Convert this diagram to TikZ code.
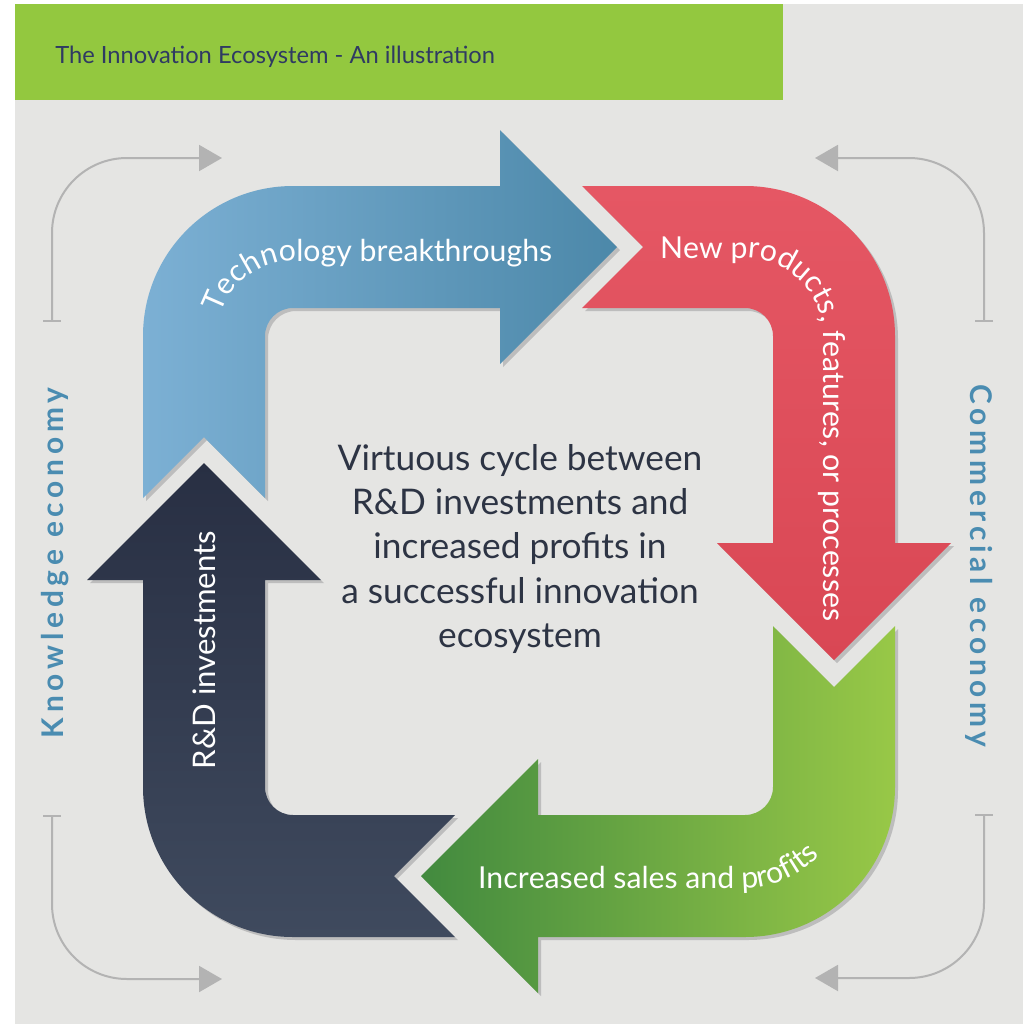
\documentclass[tikz,border=0pt]{standalone}
\usepackage{fontspec}
\setmainfont{Lato}
\newfontfamily\sidefont[LetterSpace=16]{Lato}
\usetikzlibrary{arrows.meta,shadows,decorations.text}
\definecolor{pagegray}{HTML}{E5E5E3}
\definecolor{headgreen}{HTML}{93C83F}
\definecolor{titleblue}{HTML}{2F3A62}
\definecolor{textdark}{HTML}{2D3444}
\definecolor{sideblue}{HTML}{4A8CB1}
\definecolor{linegray}{HTML}{B3B3B3}
\definecolor{shadowgray}{HTML}{BDBDBD}
\definecolor{techL}{HTML}{7CB0D4}
\definecolor{techR}{HTML}{4C88A9}
\definecolor{prodT}{HTML}{E55764}
\definecolor{prodB}{HTML}{D94754}
\definecolor{salesL}{HTML}{428A3F}
\definecolor{salesR}{HTML}{98C847}
\definecolor{rdT}{HTML}{282F43}
\definecolor{rdB}{HTML}{3F4A5E}
\newcommand\lblfont{\fontsize{17.2}{20}\selectfont}
\begin{document}
\begin{tikzpicture}[x=.02cm,y=-.02cm,every node/.style={inner sep=0pt},
	arrowshadow/.style={drop shadow={shadow xshift=.06cm,shadow yshift=-.06cm,fill=shadowgray,opacity=1}},
	bracket/.style={draw=linegray,line width=.04cm,rounded corners=1.5cm,{Bar[width=.36cm]}-{Triangle[length=.46cm,width=.52cm]}},
	alongtext/.style={decorate,decoration={text along path,text color=white,text={|\lblfont|#1}}},
	side/.style={font=\sidefont\bfseries\fontsize{17}{20}\selectfont,text=sideblue,anchor=base}]
	\useasboundingbox(0,0)rectangle(1024,1025);
	\fill[white](0,0)rectangle(1024,1025);
	\fill[pagegray](15,4)rectangle(1023,1024);
	\fill[headgreen](15,4)rectangle(783,100);
	\node[anchor=base west,text=titleblue,font=\fontsize{13.5}{16}\selectfont](title)at(55,63){The Innovation Ecosystem - An illustration};
	%side brackets
	\draw[bracket](52,322)|-(222,158);
	\draw[bracket](52,815)|-(222,979);
	\draw[bracket](984,322)|-(815,158);
	\draw[bracket](984,814)|-(815,978);
	\node[side,rotate=90](know)at(63,563){Knowledge economy};
	\node[side,rotate=-90](comm)at(970,566){Commercial economy};
	%the four arrows
	\shade[arrowshadow,left color=techL,right color=techR](143,498)--(204,437)--(265,498)--(265,336)arc[start angle=180,end angle=270,radius=28]--(500,308)--(500,364)--(617,247)--(500,130)--(500,186)--(293,186)arc[start angle=270,end angle=180,radius=150]--cycle;
	\shade[arrowshadow,top color=prodT,bottom color=prodB](582,186)--(643,247)--(582,308)--(745,308)arc[start angle=270,end angle=360,radius=28]--(773,543)--(717,543)--(834,660)--(951,543)--(895,543)--(895,336)arc[start angle=0,end angle=-90,radius=150]--cycle;
	\shade[arrowshadow,left color=salesL,right color=salesR](773,626)--(834,687)--(895,626)--(895,787)arc[start angle=0,end angle=90,radius=150]--(538,937)--(538,993)--(421,876)--(538,759)--(538,815)--(745,815)arc[start angle=90,end angle=0,radius=28]--cycle;
	\shade[arrowshadow,top color=rdT,bottom color=rdB](455,815)--(394,876)--(455,937)--(293,937)arc[start angle=90,end angle=180,radius=150]--(143,580)--(87,580)--(204,463)--(321,580)--(265,580)--(265,787)arc[start angle=180,end angle=90,radius=28]--cycle;
	%labels on the arrows
	\path[alongtext={Technology breakthroughs}](221.1,314.1)arc[start angle=197,end angle=270,radius=75]--(600,261);
	\path[alongtext={New products, features, or processes}](660,258)--(745,258)arc[start angle=270,end angle=360,radius=78]--(823,700);
	\path[alongtext={Increased sales and profits}](478,888)--(745,888)arc[start angle=90,end angle=0,radius=101]--(846,600);
	\node[rotate=90,anchor=base,text=white,font=\fontsize{17.7}{20}\selectfont](rd)at(215,650){R\&D investments};
	\node[align=center,text=textdark,font=\fontsize{20.1}{25.2}\selectfont](cycle)at(520,549){Virtuous cycle between\\R\&D investments and\\increased profits in\\a successful innovation\\ecosystem};
\end{tikzpicture}
\end{document}
